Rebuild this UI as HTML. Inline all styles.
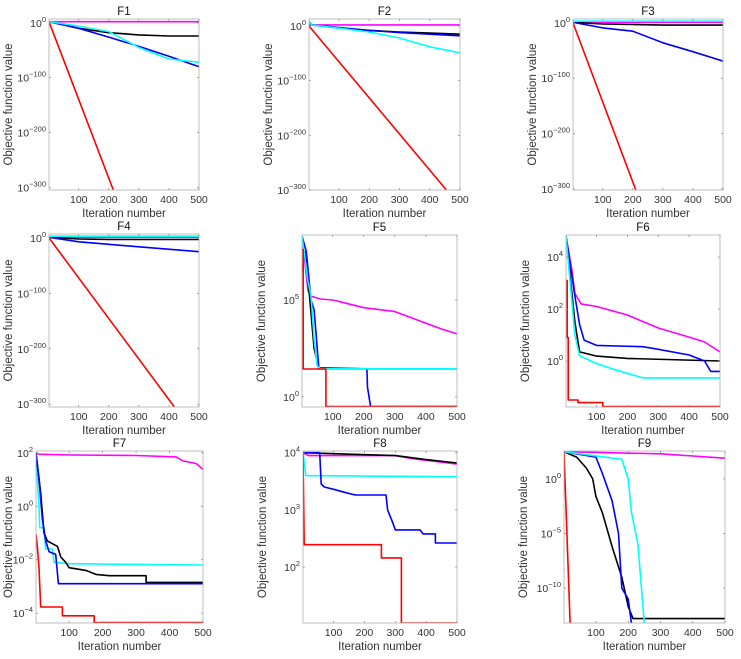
<!DOCTYPE html>
<html><head><meta charset="utf-8">
<style>
html,body{margin:0;padding:0;background:#fff;}
svg{display:block;font-family:"Liberation Sans",Arial,sans-serif;}
</style></head>
<body>
<svg id="chart" width="741" height="659" viewBox="0 0 741 659" xmlns="http://www.w3.org/2000/svg"></svg>
<script>
// Data: each series is [iteration, log10(objective value)] breakpoints
const xTicks = [100, 200, 300, 400, 500];
const f1Magenta = [[1,2],[500,2]];
const f1Black = [[1,2],[60,-5],[100,-10],[200,-18],[300,-22],[400,-24],[500,-24]];
const f1Cyan = [[1,2],[100,-6],[200,-16],[300,-45],[400,-66],[500,-72]];
const f1Blue = [[1,2],[100,-10],[200,-26],[300,-43],[400,-61],[500,-80]];
const f1Red = [[1,2],[215,-305]];
const f2Magenta = [[1,2],[500,2]];
const f2Black = [[1,8],[10,2],[100,-4],[200,-8],[300,-11],[400,-13],[500,-15]];
const f2Blue = [[1,8],[10,2],[100,-3],[200,-8],[300,-12],[400,-15],[500,-18]];
const f2Cyan = [[1,8],[10,2],[100,-4],[200,-11],[300,-22],[400,-38],[500,-49]];
const f2Red = [[1,0],[455,-300]];
const f3Cyan = [[1,3],[500,3]];
const f3Magenta = [[1,1],[500,1]];
const f3Black = [[1,1],[100,-2],[200,-3],[300,-4],[500,-4]];
const f3Blue = [[1,1],[100,-9],[200,-15],[300,-36],[400,-52],[500,-69]];
const f3Red = [[1,0],[210,-302]];
const f4Cyan = [[1,3],[500,3]];
const f4Magenta = [[1,1],[500,1]];
const f4Black = [[1,1],[100,-2],[200,-3],[500,-3]];
const f4Blue = [[1,1],[100,-7],[300,-16],[500,-25]];
const f4Red = [[1,0],[418,-305]];
const f5Magenta = [[1,8.3],[20,5.5],[30,5.2],[60,5.05],[100,5],[150,4.8],[200,4.6],[300,4.4],[350,4.1],[400,3.8],[450,3.5],[500,3.25]];
const f5Black = [[1,6.5],[10,7.5],[25,5.2],[40,2.5],[55,1.45],[500,1.45]];
const f5Blue = [[1,8.3],[15,7.5],[30,5],[40,4.5],[55,1.5],[210,1.45],[212,0.5],[222,-0.5],[500,-0.5]];
const f5Cyan = [[1,8.3],[20,6],[30,5.2],[40,3],[50,1.6],[60,1.45],[500,1.45]];
const f5Red = [[1,7.6],[5,7.6],[5,1.44],[78,1.44],[78,-0.5],[500,-0.5]];
const f6Magenta = [[1,4.8],[20,3.5],[30,2.6],[50,2.2],[100,2.1],[200,1.77],[300,1.27],[400,0.92],[450,0.73],[500,0.35]];
const f6Blue = [[1,4.8],[30,2.5],[45,1.4],[60,0.8],[100,0.6],[250,0.55],[300,0.45],[400,0.23],[450,0],[470,-0.4],[500,-0.4]];
const f6Black = [[1,4.8],[30,1.5],[45,0.35],[100,0.19],[200,0.1],[500,0]];
const f6Cyan = [[1,4.8],[30,1.0],[45,0.2],[100,-0.1],[150,-0.3],[250,-0.65],[500,-0.65]];
const f6Red = [[1,3.1],[5,3.1],[5,0.9],[8,0.9],[8,-1.5],[40,-1.5],[40,-1.6],[120,-1.6],[120,-1.75],[500,-1.75]];
const f7Magenta = [[1,2],[10,1.95],[100,1.92],[300,1.9],[420,1.85],[440,1.7],[480,1.6],[500,1.38]];
const f7Cyan = [[1,1.8],[10,0],[12,-0.8],[25,-0.8],[30,-1.6],[50,-1.6],[55,-2.1],[100,-2.15],[500,-2.2]];
const f7Black = [[1,2],[15,0.5],[25,-1],[35,-1.3],[50,-1.4],[65,-1.5],[75,-1.9],[90,-2.1],[100,-2.3],[150,-2.4],[180,-2.55],[220,-2.6],[330,-2.6],[330,-2.85],[500,-2.85]];
const f7Blue = [[1,2],[10,1],[20,-0.5],[30,-1.3],[40,-1.7],[60,-1.8],[68,-2.9],[500,-2.9]];
const f7Red = [[1,-1.05],[5,-1.5],[10,-2.3],[15,-3.77],[80,-3.77],[80,-4.1],[175,-4.1],[175,-4.35],[500,-4.35]];
const f8Magenta = [[1,4],[20,3.95],[300,3.95],[350,3.9],[500,3.8]];
const f8Black = [[1,4],[300,3.95],[400,3.88],[500,3.82]];
const f8Cyan = [[1,4],[10,3.6],[500,3.58]];
const f8Blue = [[1,4],[55,4],[60,3.45],[70,3.4],[100,3.36],[140,3.3],[170,3.26],[270,3.26],[275,3.0],[290,2.8],[300,2.65],[380,2.65],[390,2.58],[430,2.58],[430,2.42],[500,2.42]];
const f8Red = [[1,4],[5,2.39],[255,2.39],[255,2.16],[320,2.16],[320,1.02],[500,1.02]];
const f9Magenta = [[1,2.5],[300,2.3],[400,2.1],[500,1.9]];
const f9Black = [[1,2.5],[40,2],[70,1],[90,0],[100,-1.6],[120,-3.1],[150,-6.2],[180,-9],[200,-11.7],[215,-12.8],[500,-12.8]];
const f9Blue = [[1,2.5],[60,2.2],[100,2],[120,0.5],[150,-2],[170,-5],[180,-10],[200,-11],[210,-13.2]];
const f9Cyan = [[1,2.5],[180,1.8],[200,0],[210,-3],[230,-6],[250,-13.2]];
const f9Red = [[1,2.5],[20,-13.2]];

const COL = {magenta:'#ff00ff', black:'#000000', blue:'#0000ff', cyan:'#00ffff', red:'#ff0000'};
const panels = [
 {t:'F1', box:[49,19,199,190], y:[-305,7], yt:[0,-100,-200,-300], s:[['magenta',f1Magenta],['black',f1Black],['blue',f1Blue],['cyan',f1Cyan],['red',f1Red]]},
 {t:'F2', box:[309,19,460,190], y:[-300,12.8], yt:[0,-100,-200,-300], s:[['magenta',f2Magenta],['black',f2Black],['blue',f2Blue],['cyan',f2Cyan],['red',f2Red]]},
 {t:'F3', box:[573,19,723,190], y:[-302,7], yt:[0,-100,-200,-300], s:[['magenta',f3Magenta],['black',f3Black],['blue',f3Blue],['cyan',f3Cyan],['red',f3Red]]},
 {t:'F4', box:[49,234,199,407], y:[-305,7], yt:[0,-100,-200,-300], s:[['magenta',f4Magenta],['black',f4Black],['blue',f4Blue],['cyan',f4Cyan],['red',f4Red]]},
 {t:'F5', box:[302,235,457,407], y:[-0.52,8.35], yt:[0,5], s:[['magenta',f5Magenta],['black',f5Black],['blue',f5Blue],['cyan',f5Cyan],['red',f5Red]]},
 {t:'F6', box:[566,235,720,407], y:[-1.77,4.85], yt:[0,2,4], s:[['magenta',f6Magenta],['black',f6Black],['blue',f6Blue],['cyan',f6Cyan],['red',f6Red]]},
 {t:'F7', box:[36,451,203,623], y:[-4.37,2.07], yt:[-4,-2,0,2], s:[['magenta',f7Magenta],['cyan',f7Cyan],['black',f7Black],['blue',f7Blue],['red',f7Red]]},
 {t:'F8', box:[303,451,457,623], y:[1.02,4.03], yt:[2,3,4], s:[['magenta',f8Magenta],['black',f8Black],['cyan',f8Cyan],['blue',f8Blue],['red',f8Red]]},
 {t:'F9', box:[564,451,725,623], y:[-13.2,2.56], yt:[-10,-5,0], s:[['magenta',f9Magenta],['black',f9Black],['blue',f9Blue],['cyan',f9Cyan],['red',f9Red]]}
];
const NS='http://www.w3.org/2000/svg';
const svg=document.getElementById('chart');
function mk(tag, attrs, parent){const e=document.createElementNS(NS,tag);for(const k in attrs)e.setAttribute(k,attrs[k]);parent.appendChild(e);return e;}
panels.forEach(p=>{
  const [L,T,R,B]=p.box;
  const g=mk('g',{},svg);
  
  
  const xs=v=>L+(v-1)/(499)*(R-L);
  const ys=v=>B-(v-p.y[0])/(p.y[1]-p.y[0])*(B-T);
  const bg=mk('rect',{x:L,y:T,width:R-L,height:B-T,fill:'#fff',stroke:'none'},g);
  
  
  const cid='clip'+p.t;
  const cp=mk('clipPath',{id:cid},g);mk('rect',{x:L,y:T,width:R-L,height:B-T},cp);
  const lines=mk('g',{'clip-path':'url(#'+cid+')'},g);
  p.s.forEach(([c,d])=>{
    const pts=d.map(q=>xs(q[0]).toFixed(1)+','+ys(q[1]).toFixed(1)).join(' ');
    const pl=mk('polyline',{points:pts,fill:'none',stroke:COL[c],'stroke-width':1.6,'stroke-linejoin':'round'},lines);
    
    
  });
  const frame=mk('rect',{x:L,y:T,width:R-L,height:B-T,fill:'none',stroke:'#b0b0b0','stroke-width':0.8},g);
  
  
  xTicks.forEach(v=>{
    const x=xs(v);
    mk('line',{x1:x,y1:B,x2:x,y2:B-2,stroke:'#888','stroke-width':0.7},g);
    mk('line',{x1:x,y1:T,x2:x,y2:T+2,stroke:'#888','stroke-width':0.7},g);
    const tx=mk('text',{x:x,y:B+13,'font-size':10.5,'text-anchor':'middle',fill:'#333'},g);
    tx.textContent=v;
    
    
  });
  p.yt.forEach(v=>{
    const y=ys(v);
    mk('line',{x1:L,y1:y,x2:L+2,y2:y,stroke:'#888','stroke-width':0.7},g);
    mk('line',{x1:R,y1:y,x2:R-2,y2:y,stroke:'#888','stroke-width':0.7},g);
    const tx=mk('text',{x:L-3,y:y+4,'font-size':10.5,'text-anchor':'end',fill:'#333'},g);
    
    
    const a=mk('tspan',{},tx);a.textContent='10';
    const b=mk('tspan',{'font-size':7.5,dy:-5},tx);b.textContent=(v<0?'\u2212'+(-v):String(v));
  });
  const ti=mk('text',{x:(L+R)/2,y:T-4,'font-size':11.5,'text-anchor':'middle',fill:'#111'},g);
  ti.textContent=p.t;
  
  
  const xl=mk('text',{x:(L+R)/2,y:B+27,'font-size':11.5,'text-anchor':'middle',fill:'#333'},g);
  xl.textContent='Iteration number';
  
  
  const yx=Math.max(12,L-37), yc=(T+B)/2;
  const yl=mk('text',{x:yx,y:yc,'font-size':11.5,'text-anchor':'middle',fill:'#333',transform:'rotate(-90 '+yx+' '+yc+')'},g);
  yl.textContent='Objective function value';
  
  
});
</script>
</body></html>
